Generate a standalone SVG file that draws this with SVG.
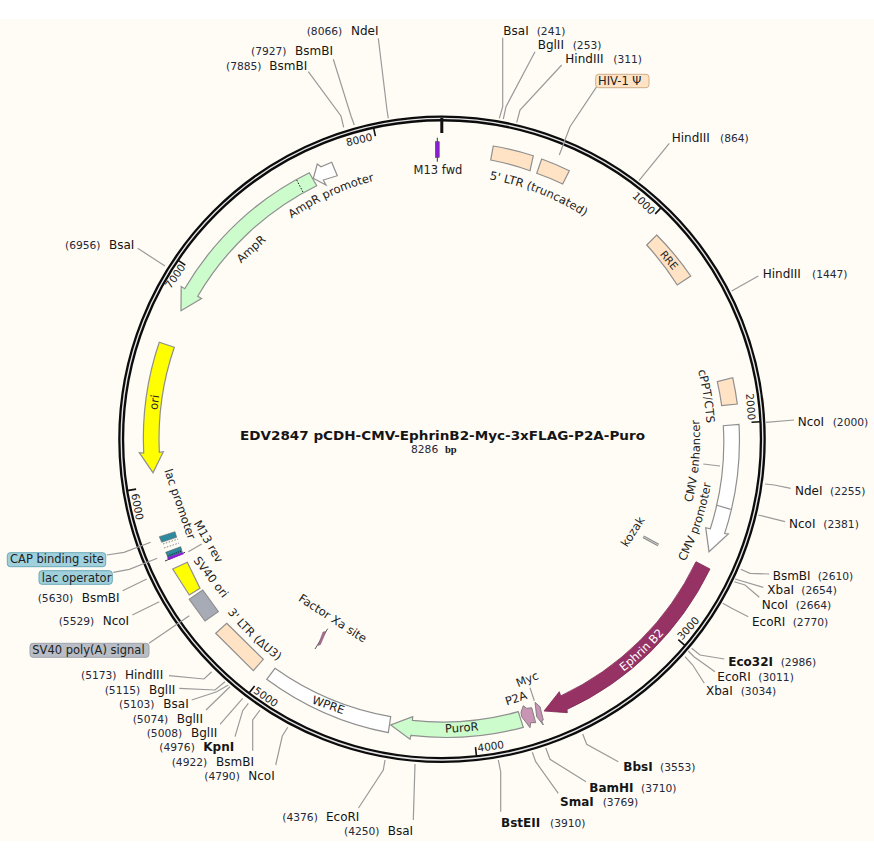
<svg xmlns="http://www.w3.org/2000/svg" width="874" height="860" viewBox="0 0 874 860">
<style>
text{font-family:"DejaVu Sans","Liberation Sans",sans-serif;fill:#151515}
.n{font-size:12px}
.b{font-size:12px;font-weight:bold}
.p{font-size:10.7px;fill:#24283a}
.f{font-size:11.5px;fill:#222}
.c{text-anchor:middle;dominant-baseline:central}
.m{text-anchor:middle}
.t{font-size:10.5px;text-anchor:middle;dominant-baseline:central;fill:#222}
.l{fill:none;stroke:#9a9a9a;stroke-width:1.2}
.g{stroke:#8f8f8f;stroke-width:1.2}
.peach{fill:#FFE3C4}
.tick{stroke:#111;stroke-width:1.6}
</style>
<defs>
<path id="a5ltr" d="M442,175A264,264 0 0 1 622,245.9"/>
<path id="aAmpP" d="M254.9,248.6A267,267 0 0 1 421,172.8"/>
<path id="aCppt" d="M673.3,309.7A265,265 0 0 1 702.3,488.7"/>
<path id="aEnh" d="M665.4,568A258,258 0 0 0 684.5,350.8"/>
<path id="aPro" d="M623.3,641.8A273,273 0 0 0 709,382.3"/>
<path id="aEph" d="M510.4,726A295,295 0 0 0 724.7,523.3"/>
<path id="a3ltr" d="M177,516A276,276 0 0 0 376.1,707"/>
</defs>
<rect x="0" y="19" width="874" height="822" fill="#FFFCF5"/>
<circle cx="442" cy="439.2" r="320.8" fill="none" stroke="#0c0c0c" stroke-width="6"/>
<circle cx="442" cy="439.2" r="320.8" fill="none" stroke="#e4e4e4" stroke-width="1.4"/>
<g id="ticks">
<line class="tick" x1="661.4" y1="207.4" x2="655.2" y2="213.9"/>
<line class="tick" x1="760.5" y1="421.7" x2="751.5" y2="422.2"/>
<line class="tick" x1="685.1" y1="645.6" x2="678.3" y2="639.7"/>
<line class="tick" x1="476.5" y1="756.1" x2="475.5" y2="747.2"/>
<line class="tick" x1="249.1" y1="693.1" x2="254.6" y2="685.9"/>
<line class="tick" x1="127.2" y1="490.6" x2="136.1" y2="489.1"/>
<line class="tick" x1="177.8" y1="260.2" x2="185.3" y2="265.2"/>
<line class="tick" x1="373.5" y1="127.4" x2="375.4" y2="136.2"/>
<line x1="441.8" y1="118" x2="441.8" y2="133" stroke="#111" stroke-width="3"/>
<text class="t" transform="translate(644,203) rotate(45)">1000</text>
<text class="t" transform="translate(751,406.7) rotate(86)">2000</text>
<text class="t" transform="translate(688,628) rotate(-48)">3000</text>
<text class="t" transform="translate(490.7,746) rotate(-8)">4000</text>
<text class="t" transform="translate(266,696.7) rotate(35)">5000</text>
<text class="t" transform="translate(137.7,506.7) rotate(79)">6000</text>
<text class="t" transform="translate(175,276) rotate(-55)">7000</text>
<text class="t" transform="translate(359,139.3) rotate(-13)">8000</text>
</g>
<g id="connectors">
<polyline class="l" points="378.3,38.3 387,110 388.3,118.3"/>
<polyline class="l" points="333.3,59.3 351,116 354.3,125"/>
<polyline class="l" points="308.3,71.7 341,116 343.7,127.3"/>
<polyline class="l" points="502.7,37.7 502.7,106.7 499.3,118.3"/>
<polyline class="l" points="535,51.7 506,106.7 503.3,119"/>
<polyline class="l" points="561.7,65 520,110 516.7,122.7"/>
<polyline class="l" points="596.7,86.7 570,126.7 559.3,155"/>
<polyline class="l" points="669.3,143.3 639,180.7"/>
<polyline class="l" points="758.3,276 731.7,291"/>
<polyline class="l" points="794,420 766,422.3"/>
<polyline class="l" points="790.7,488.3 774.3,485 765,484"/>
<polyline class="l" points="785,521.7 758.3,515"/>
<polyline class="l" points="769.3,574 750,573.3 740.7,569.3"/>
<polyline class="l" points="763.3,587.3 735,579"/>
<polyline class="l" points="759.3,597.3 745,585 734.3,581.7"/>
<polyline class="l" points="748.3,616.7 731.7,608.3 722.7,603.3"/>
<polyline class="l" points="724.3,659 700,655 691.7,648.3"/>
<polyline class="l" points="715,671.7 694,656.7 688.3,651"/>
<polyline class="l" points="704.3,683.3 692.7,665 685,656.7"/>
<polyline class="l" points="618.3,761.7 586.7,744.3 582.7,734"/>
<polyline class="l" points="586,781.7 550,759.3 545.7,747.7"/>
<polyline class="l" points="558.3,793.3 535.7,761.7 532.3,752.3"/>
<polyline class="l" points="500.7,811.7 500.7,771.7 498.3,760"/>
<polyline class="l" points="413.3,820 415,764"/>
<polyline class="l" points="358.5,808 383.3,770 385,760"/>
<polyline class="l" points="275.7,765 282.3,736 287.7,727.3"/>
<polyline class="l" points="252.7,750.7 252.7,720 260,710"/>
<polyline class="l" points="235,736.7 242.7,710.7 248.3,703.3"/>
<polyline class="l" points="220,724.3 242.7,698.3"/>
<polyline class="l" points="206,710 230,686.7"/>
<polyline class="l" points="191.7,700 216.7,691.7 228.3,685"/>
<polyline class="l" points="179.3,688.3 215,690 225,681.7"/>
<polyline class="l" points="169,675.7 204,679 211.7,671.7"/>
<polyline class="l" points="149,643.3 189.3,615.7"/>
<polyline class="l" points="132.3,615 159.3,601.7"/>
<polyline class="l" points="122.7,590.7 146.7,579"/>
<polyline class="l" points="113.3,572.3 129.3,569.3 157.3,558.3"/>
<polyline class="l" points="106.7,555 124,552.3 150.7,542.3"/>
<polyline class="l" points="188.3,551.7 201.7,544"/>
<polyline class="l" points="530,687.7 534.3,700.7"/>
<polyline class="l" points="703.3,464 720,466"/>
<polyline class="l" points="137.7,248.3 165,266"/>
</g>
<g id="feat-m13fwd">
<line x1="437.3" y1="137.7" x2="437.3" y2="161.7" stroke="#333" stroke-width="1"/>
<rect x="435.4" y="141.7" width="3.8" height="15.6" fill="#8a1fd6" stroke="#444" stroke-width=".6"/>
<text class="f m" x="438" y="174">M13 fwd</text>
</g>
<g id="feat-5ltr">
<path class="peach g" d="M493.3,146A297.5,297.5 0 0 1 533.3,155.7L530,170.7A283,283 0 0 0 490.7,160Z"/>
<text class="f m"><textPath href="#a5ltr" startOffset="50%">5' LTR (truncated)</textPath></text>
</g>
<g id="feat-hiv">
<path class="peach g" d="M541.7,159A297.5,297.5 0 0 1 569.3,170.7L562.7,184A283,283 0 0 0 536.7,173.3Z"/>
<rect x="595.7" y="74.3" width="53.3" height="13.4" rx="3" fill="#FFE3C4" stroke="#cfae8a"/>
<text class="f" x="598" y="84.5">HIV-1 Ψ</text>
</g>
<g id="feat-rre">
<path class="peach g" d="M656.7,235A297.5,297.5 0 0 1 690.7,276L677.3,285A283,283 0 0 0 646.7,245Z"/>
<text class="t" transform="translate(669.3,260) rotate(50)">RRE</text>
</g>
<g id="feat-cppt">
<path class="peach g" d="M717.3,381.7L732.7,377.7A297.5,297.5 0 0 1 737.3,404L721.7,405.7A283,283 0 0 0 717.3,381.7Z"/>
<text class="f m"><textPath href="#aCppt" startOffset="50%">cPPT/CTS</textPath></text>
</g>
<g id="feat-cmv">
<path d="M739,424.3A298,298 0 0 1 724.6,533.6L728.3,534L709,551.7L705.7,527.7L710.3,528.8A283,283 0 0 0 723.3,425.7Z" fill="#fff" class="g"/>
<line class="g" x1="716" y1="505" x2="730.7" y2="509.3"/>
<text class="f m"><textPath href="#aEnh" startOffset="50%">CMV enhancer</textPath></text>
<text class="f m"><textPath href="#aPro" startOffset="50%">CMV promoter</textPath></text>
</g>
<g id="feat-kozak">
<line x1="643.3" y1="536.7" x2="658.3" y2="545" stroke="#8a8a8a" stroke-width="3"/>
<line x1="643.3" y1="536.7" x2="658.3" y2="545" stroke="#ddd" stroke-width=".8"/>
<text class="f c" transform="translate(632.7,531.7) rotate(-57)">kozak</text>
</g>
<g id="feat-ephrin">
<path d="M710,569A298,298 0 0 1 567,709.5L567.3,712.7L544,711L559.3,691.7L560.7,695.9A283,283 0 0 0 696,561.7Z" fill="#963264" stroke="#7d2a55" stroke-width=".8"/>
<text class="f m" style="fill:#fff"><textPath href="#aEph" startOffset="50%">Ephrin B2</textPath></text>
</g>
<g id="feat-myc">
<path d="M535,702.3L540,706.7L543.3,720L541.7,720.7L543.3,725L536.7,716.7Z" fill="#C995B5" stroke="#777" stroke-width=".9"/>
<text class="f c" transform="translate(527.3,679.3) rotate(-22)">Myc</text>
</g>
<g id="feat-p2a">
<path d="M521,712.3L523.3,705.7L526.7,708.3L531.7,707.7L535.7,722.7L530.7,722.7L530,727.7L521.7,716.7Z" fill="#C995B5" stroke="#777" stroke-width=".9"/>
<text class="f c" transform="translate(516,698.3) rotate(-18)">P2A</text>
</g>
<g id="feat-puro">
<path d="M518.3,711.7A283,283 0 0 1 412.4,720.4L412.7,716.7L390.7,725L410,739.3L410.9,735.4A298,298 0 0 0 523.3,727.3Z" fill="#CCFBCC" class="g"/>
<text class="f c" transform="translate(461.7,727.7) rotate(-4)">PuroR</text>
</g>
<g id="feat-wpre">
<path d="M275,668.3A283,283 0 0 0 390.7,716.7L388.3,732.7A298,298 0 0 1 266.7,679.3Z" fill="#fff" class="g"/>
<text class="f c" transform="translate(328.3,705) rotate(19)">WPRE</text>
</g>
<g id="feat-xa">
<line x1="327.7" y1="628.7" x2="315" y2="649" stroke="#555" stroke-width="1"/>
<path d="M326,631.5L320.5,644.5L318,645.5L323,632Z" fill="#A86C90" stroke="#7a5a70" stroke-width=".5"/>
<text class="f c" transform="translate(332.7,618.3) rotate(33)">Factor Xa site</text>
</g>
<g id="feat-3ltr">
<path class="peach g" d="M226.7,623.3L263.3,659.3L253.3,670.7L215.7,633.3Z"/>
<text class="f m"><textPath href="#a3ltr" startOffset="50%">3' LTR (ΔU3)</textPath></text>
</g>
<g id="feat-polya">
<path d="M189.3,599.3L202.7,590L218.3,611.7L205,621Z" fill="#A6ABB5" class="g"/>
<rect x="30" y="643.3" width="119" height="14" rx="3" fill="#B9BDC5" stroke="#a0a4ac"/>
<text class="f" x="32.3" y="654">SV40 poly(A) signal</text>
</g>
<g id="feat-sv40">
<path d="M172.7,569L187.3,562.3L200,588.3L189.3,595Z" fill="#FFFF00" class="g"/>
<text class="f c" transform="translate(211,577) rotate(52)">SV40 ori</text>
</g>
<g id="feat-lac">
<line x1="163" y1="544" x2="178" y2="539" stroke="#666" stroke-width=".8" stroke-dasharray="1.5 1.5"/>
<line x1="164" y1="548" x2="179" y2="543" stroke="#666" stroke-width=".8" stroke-dasharray="1.5 1.5"/>
<path d="M165.7,552.3L180.7,546.7L182.3,552.3L168.3,557.7Z" fill="#2E8A9E" stroke="#555" stroke-width=".6"/>
<line x1="167.5" y1="556.2" x2="181.5" y2="550.8" stroke="#123" stroke-width="1.2" stroke-dasharray="1 1.2"/>
<text class="f c" transform="translate(180,504) rotate(71)">lac promoter</text>
</g>
<g id="feat-cap">
<path d="M159.3,536.7L175,531.7L176.7,537.3L161.7,542.3Z" fill="#2E8A9E" stroke="#666" stroke-width=".6"/>
<rect x="7.3" y="552.7" width="98.4" height="14" rx="3" fill="#9FD0DC" stroke="#6AA8B8"/>
<text class="f" x="10" y="563.3">CAP binding site</text>
</g>
<g id="feat-lacop">
<rect x="39" y="570.7" width="73.3" height="13.6" rx="3" fill="#9FD0DC" stroke="#6AA8B8"/>
<text class="f" x="41.7" y="581.5">lac operator</text>
</g>
<g id="feat-m13rev">
<line x1="165" y1="561" x2="185" y2="552.3" stroke="#222" stroke-width=".9"/>
<path d="M166.7,557.7L182.3,552.3L184,554L169,560Z" fill="#8a1fd6"/>
<text class="f c" transform="translate(208.5,541.5) rotate(60)">M13 rev</text>
</g>
<g id="feat-ori">
<path d="M159.3,342.3A298,298 0 0 0 143.7,453L139.3,452.7L153,472.7L163.3,451.7L159.3,452.3A283,283 0 0 1 174.3,347.3Z" fill="#FFFF00" class="g"/>
<text class="f c" transform="translate(154.3,402.3) rotate(-82)">ori</text>
</g>
<g id="feat-ampr">
<path d="M309.3,172.7A297.5,297.5 0 0 0 184.7,288.7L181.2,286.6L181,310.7L201.5,298.5L197.7,296.2A283,283 0 0 1 316.7,185.7Z" fill="#CCFBCC" class="g"/>
<line x1="296.7" y1="180" x2="303.3" y2="192.7" stroke="#222" stroke-width="1" stroke-dasharray="1.5 1.5"/>
<text class="f c" transform="translate(251,249) rotate(-42)">AmpR</text>
</g>
<g id="feat-amprp">
<path d="M313.3,178.3L317.3,164L321,166.7L331.7,162.3L337.3,175.7L323.3,180L326,185Z" fill="#fff" class="g"/>
<text class="f m"><textPath href="#aAmpP" startOffset="50%">AmpR promoter</textPath></text>
</g>
<g id="title">
<text x="240" y="440" font-size="13" font-weight="bold" textLength="405" lengthAdjust="spacingAndGlyphs">EDV2847 pCDH-CMV-EphrinB2-Myc-3xFLAG-P2A-Puro</text>
<text class="p" x="411" y="453">8286</text>
<text x="445" y="453" font-size="10.5" font-weight="bold" style="font-family:'Liberation Serif',serif">bp</text>
</g>
<g id="site-8066"><text class="p" x="306.7" y="34.5">(8066)</text><text class="n" x="351" y="34.5">NdeI</text></g>
<g id="site-7927"><text class="p" x="251" y="55">(7927)</text><text class="n" x="295" y="55">BsmBI</text></g>
<g id="site-7885"><text class="p" x="226" y="70">(7885)</text><text class="n" x="269.3" y="70">BsmBI</text></g>
<g id="site-241"><text class="n" x="503.3" y="35">BsaI</text><text class="p" x="536.7" y="35">(241)</text></g>
<g id="site-253"><text class="n" x="537.7" y="49.3">BglII</text><text class="p" x="572.7" y="49.3">(253)</text></g>
<g id="site-311"><text class="n" x="565.3" y="63.3">HindIII</text><text class="p" x="613.3" y="63.3">(311)</text></g>
<g id="site-864"><text class="n" x="671.7" y="141.7">HindIII</text><text class="p" x="720" y="141.7">(864)</text></g>
<g id="site-1447"><text class="n" x="762.7" y="277.7">HindIII</text><text class="p" x="812" y="277.7">(1447)</text></g>
<g id="site-2000"><text class="n" x="797.7" y="425.7">NcoI</text><text class="p" x="832.7" y="425.7">(2000)</text></g>
<g id="site-2255"><text class="n" x="795" y="495">NdeI</text><text class="p" x="830" y="495">(2255)</text></g>
<g id="site-2381"><text class="n" x="789" y="528.3">NcoI</text><text class="p" x="823.3" y="528.3">(2381)</text></g>
<g id="site-2610"><text class="n" x="772.7" y="580">BsmBI</text><text class="p" x="817.7" y="580">(2610)</text></g>
<g id="site-2654"><text class="n" x="767.3" y="594.3">XbaI</text><text class="p" x="801.3" y="594.3">(2654)</text></g>
<g id="site-2664"><text class="n" x="761.7" y="608.7">NcoI</text><text class="p" x="795.7" y="608.7">(2664)</text></g>
<g id="site-2770"><text class="n" x="752" y="626">EcoRI</text><text class="p" x="792.7" y="626">(2770)</text></g>
<g id="site-2986"><text class="b" x="728.3" y="666">Eco32I</text><text class="p" x="780.7" y="666">(2986)</text></g>
<g id="site-3011"><text class="n" x="717.3" y="680.7">EcoRI</text><text class="p" x="758.3" y="680.7">(3011)</text></g>
<g id="site-3034"><text class="n" x="706" y="695">XbaI</text><text class="p" x="740.7" y="695">(3034)</text></g>
<g id="site-3553"><text class="b" x="623.3" y="770.7">BbsI</text><text class="p" x="660" y="770.7">(3553)</text></g>
<g id="site-3710"><text class="b" x="589.3" y="791.7">BamHI</text><text class="p" x="641" y="791.7">(3710)</text></g>
<g id="site-3769"><text class="b" x="560" y="806">SmaI</text><text class="p" x="602.7" y="806">(3769)</text></g>
<g id="site-3910"><text class="b" x="501" y="827.3">BstEII</text><text class="p" x="550" y="827.3">(3910)</text></g>
<g id="site-4250"><text class="p" x="344" y="835">(4250)</text><text class="n" x="387.7" y="835">BsaI</text></g>
<g id="site-4376"><text class="p" x="282.3" y="821">(4376)</text><text class="n" x="326" y="821">EcoRI</text></g>
<g id="site-4790"><text class="p" x="204.3" y="780">(4790)</text><text class="n" x="248.3" y="780">NcoI</text></g>
<g id="site-4922"><text class="p" x="171.7" y="765.7">(4922)</text><text class="n" x="216" y="765.7">BsmBI</text></g>
<g id="site-4976"><text class="p" x="159.3" y="751">(4976)</text><text class="b" x="203.3" y="751">KpnI</text></g>
<g id="site-5008"><text class="p" x="146.7" y="736.7">(5008)</text><text class="n" x="191" y="736.7">BglII</text></g>
<g id="site-5074"><text class="p" x="132.7" y="722.7">(5074)</text><text class="n" x="176.7" y="722.7">BglII</text></g>
<g id="site-5103"><text class="p" x="119" y="708.3">(5103)</text><text class="n" x="163.3" y="708.3">BsaI</text></g>
<g id="site-5115"><text class="p" x="104.7" y="694">(5115)</text><text class="n" x="149" y="694">BglII</text></g>
<g id="site-5173"><text class="p" x="81" y="679.3">(5173)</text><text class="n" x="125" y="679.3">HindIII</text></g>
<g id="site-5630"><text class="p" x="37.7" y="602.3">(5630)</text><text class="n" x="81.7" y="602.3">BsmBI</text></g>
<g id="site-5529"><text class="p" x="58.7" y="625">(5529)</text><text class="n" x="102.7" y="625">NcoI</text></g>
<g id="site-6956"><text class="p" x="65" y="248.5">(6956)</text><text class="n" x="109" y="248.5">BsaI</text></g>
</svg>
